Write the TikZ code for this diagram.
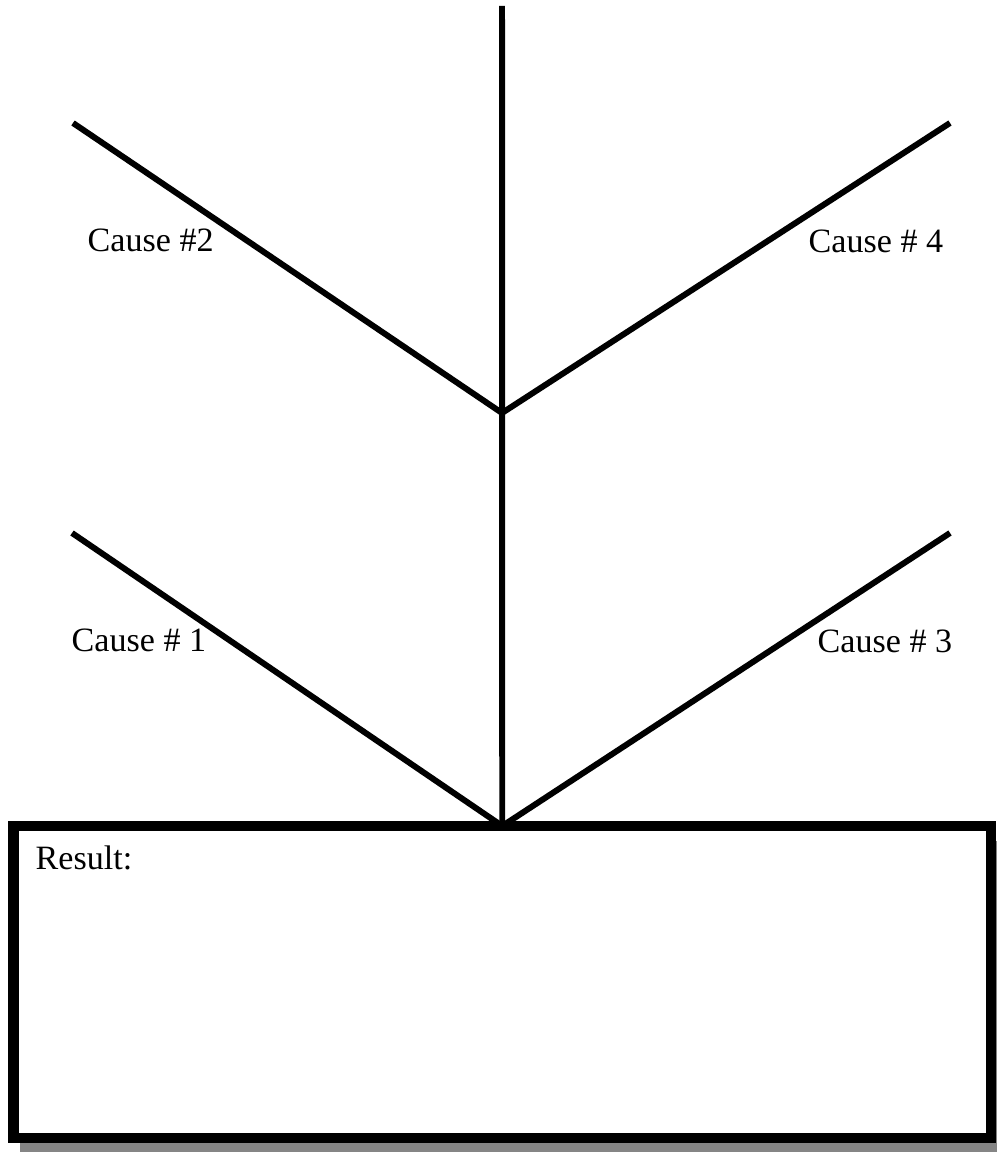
\documentclass[tikz,border=0pt]{standalone}
\usepackage{fontspec}
\setmainfont{Liberation Serif}
\usetikzlibrary{shadows}
\definecolor{shadowgray}{HTML}{858585}

\begin{document}
\begin{tikzpicture}[
    branch/.style={line width=1.7pt},
    causelabel/.style={anchor=base west, inner sep=0pt, font=\fontsize{9.7}{11}\selectfont},
    resultbox/.style={draw, line width=3.1pt, fill=white, minimum width=9.775cm,
      minimum height=3.12cm, inner sep=0pt, outer sep=0pt,
      drop shadow={shadow xshift=0.06cm, shadow yshift=-0.15cm, fill=shadowgray, opacity=1}}
  ]
    \useasboundingbox (0,0) rectangle (9.98,11.52);
    \fill[white] (0,0) rectangle (9.98,11.52);

    \node[resultbox] (result) at (5.0225,1.70) {};
    \node[causelabel] (resultlbl) at (0.35,2.82) {Result:};

    \coordinate (top) at (5.02,11.46);
    \coordinate (upper) at (5.02,7.39);
    \coordinate (lower) at (result.north);
    \coordinate (c1end) at (0.72,6.19);
    \coordinate (c2end) at (0.73,10.29);
    \coordinate (c3end) at (9.50,6.19);
    \coordinate (c4end) at (9.50,10.29);

    \draw[branch] (top) -- (lower);
    \draw[branch] (c2end) -- (upper) -- (c4end);
    \draw[branch] (c1end) -- (lower) -- (c3end);

    \node[causelabel] (cause1) at (0.71,5.00) {Cause \# 1};
    \node[causelabel] (cause2) at (0.87,9.00) {Cause \#2};
    \node[causelabel] (cause3) at (8.17,4.99) {Cause \# 3};
    \node[causelabel] (cause4) at (8.08,8.99) {Cause \# 4};
  \end{tikzpicture}
\end{document}
